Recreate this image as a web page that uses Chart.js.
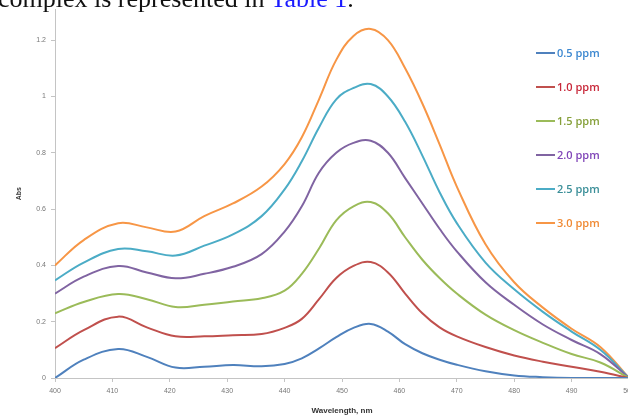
<!DOCTYPE html>
<html>
<head>
<meta charset="utf-8">
<script src="https://cdn.jsdelivr.net/npm/chart.js@4/dist/chart.umd.min.js"></script>
<style>
  html, body { margin: 0; padding: 0; background: #fff; }
  body { width: 628px; height: 418px; overflow: hidden; position: relative; }
  #chart { position: absolute; left: 0; top: 0; }
  #caption {
    position: absolute; left: -2px; top: -14px; white-space: nowrap;
    font-family: "Liberation Serif", "DejaVu Serif", serif; font-size: 26px; line-height: 26px; color: #111;
  }
  #caption span { color: #1a1aff; }
  #legend { position: absolute; left: 536px; top: 46px; }
  .item { height: 34px; display: flex; align-items: flex-start; }
  .item i { display: inline-block; width: 19px; height: 2px; margin-top: 6px; margin-right: 2px; }
  .item b { font-family: "Open Sans", "Liberation Sans", sans-serif; font-size: 11px; font-weight: 600; line-height: 14px; }
</style>
</head>
<body>
<canvas id="chart" width="640" height="418"></canvas>
<div id="caption">complex is represented in <span>Table 1</span>.</div>
<div id="legend"></div>
<script>
// wavelengths (nm) and absorbance for each concentration
var wavelengths = [400, 405, 411, 416, 421, 426, 431, 436, 440, 443, 446, 449, 452, 455, 458, 461, 464, 467, 470, 475, 480, 485, 490, 495, 500];

var ppm05 = [0, 0.065, 0.103, 0.075, 0.037, 0.040, 0.046, 0.042, 0.050, 0.070, 0.105, 0.145, 0.178, 0.192, 0.165, 0.120, 0.088, 0.065, 0.047, 0.024, 0.009, 0.003, 0, 0, 0];
var ppm10 = [0.106, 0.170, 0.218, 0.180, 0.148, 0.148, 0.152, 0.156, 0.178, 0.210, 0.280, 0.355, 0.398, 0.412, 0.375, 0.300, 0.230, 0.180, 0.148, 0.110, 0.080, 0.058, 0.040, 0.022, 0];
var ppm15 = [0.230, 0.270, 0.298, 0.280, 0.252, 0.260, 0.272, 0.283, 0.310, 0.370, 0.460, 0.560, 0.610, 0.625, 0.585, 0.500, 0.420, 0.355, 0.300, 0.225, 0.170, 0.125, 0.085, 0.055, 0];
var ppm20 = [0.300, 0.360, 0.398, 0.375, 0.354, 0.370, 0.395, 0.440, 0.520, 0.610, 0.730, 0.800, 0.835, 0.843, 0.800, 0.710, 0.620, 0.530, 0.450, 0.340, 0.260, 0.190, 0.135, 0.085, 0];
var ppm25 = [0.347, 0.410, 0.458, 0.450, 0.435, 0.470, 0.510, 0.575, 0.670, 0.770, 0.890, 0.990, 1.030, 1.044, 1.000, 0.910, 0.790, 0.660, 0.550, 0.410, 0.315, 0.235, 0.165, 0.100, 0];
var ppm30 = [0.400, 0.490, 0.550, 0.535, 0.520, 0.575, 0.620, 0.680, 0.760, 0.855, 0.990, 1.130, 1.215, 1.240, 1.200, 1.100, 0.975, 0.830, 0.680, 0.475, 0.340, 0.250, 0.175, 0.110, 0];

var seriesNames = ['0.5 ppm', '1.0 ppm', '1.5 ppm', '2.0 ppm', '2.5 ppm', '3.0 ppm'];
var seriesValues = [ppm05, ppm10, ppm15, ppm20, ppm25, ppm30];
var lineColors = ['#4F81BD', '#C0504D', '#9BBB59', '#8064A2', '#4BACC6', '#F79646'];
var textColors = ['#3b87d0', '#c8283a', '#86a03a', '#8046b8', '#3a8e98', '#f08a34'];

var yTicks = [0, 0.2, 0.4, 0.6, 0.8, 1, 1.2];

var datasets = seriesValues.map(function (vals, i) {
    return {
        label: seriesNames[i],
        data: vals.map(function (v, j) { return { x: wavelengths[j], y: v }; }),
        borderColor: lineColors[i],
        borderWidth: 2,
        pointRadius: 0,
        fill: false,
        tension: 0.4
    };
});

var axisColor = '#c4c4c4';

new Chart(document.getElementById('chart'), {
    type: 'line',
    data: { datasets: datasets },
    options: {
        responsive: false,
        animation: false,
        layout: { padding: { top: 8, right: 11, left: 0, bottom: 0 } },
        plugins: { legend: { display: false }, tooltip: { enabled: false } },
        scales: {
            x: {
                type: 'linear',
                min: 400,
                max: 500,
                afterFit: function (scale) { scale.height = 40; },
                ticks: { stepSize: 10, padding: 5, color: '#777', font: { family: 'Liberation Sans', size: 7 }, maxRotation: 0 },
                grid: { drawOnChartArea: false, tickLength: 4, color: axisColor },
                border: { color: axisColor, width: 1 },
                title: { display: true, text: 'Wavelength, nm', color: '#333', font: { family: 'Liberation Sans', size: 8, weight: 'bold' }, padding: { top: 2, bottom: 2 } }
            },
            y: {
                min: 0,
                max: 1.31,
                afterFit: function (scale) { scale.width = 55; },
                afterBuildTicks: function (scale) {
                    scale.ticks = yTicks.map(function (v) { return { value: v }; });
                },
                ticks: {
                    padding: 5, color: '#777', font: { family: 'Liberation Sans', size: 7 },
                    callback: function (v) { return String(Math.round(v * 10) / 10); }
                },
                grid: { drawOnChartArea: false, tickLength: 4, color: axisColor },
                border: { color: axisColor, width: 1 },
                title: { display: true, text: 'Abs', color: '#333', font: { family: 'Liberation Sans', size: 7, weight: 'bold' }, padding: { top: 15, bottom: 0 } }
            }
        }
    }
});

// legend drawn as html next to the plot
var legend = document.getElementById('legend');
seriesNames.forEach(function (name, i) {
    var row = document.createElement('div');
    row.className = 'item';
    row.innerHTML = '<i style="background:' + lineColors[i] + '"></i><b style="color:' + textColors[i] + '">' + name + '</b>';
    legend.appendChild(row);
});
</script>
</body>
</html>
